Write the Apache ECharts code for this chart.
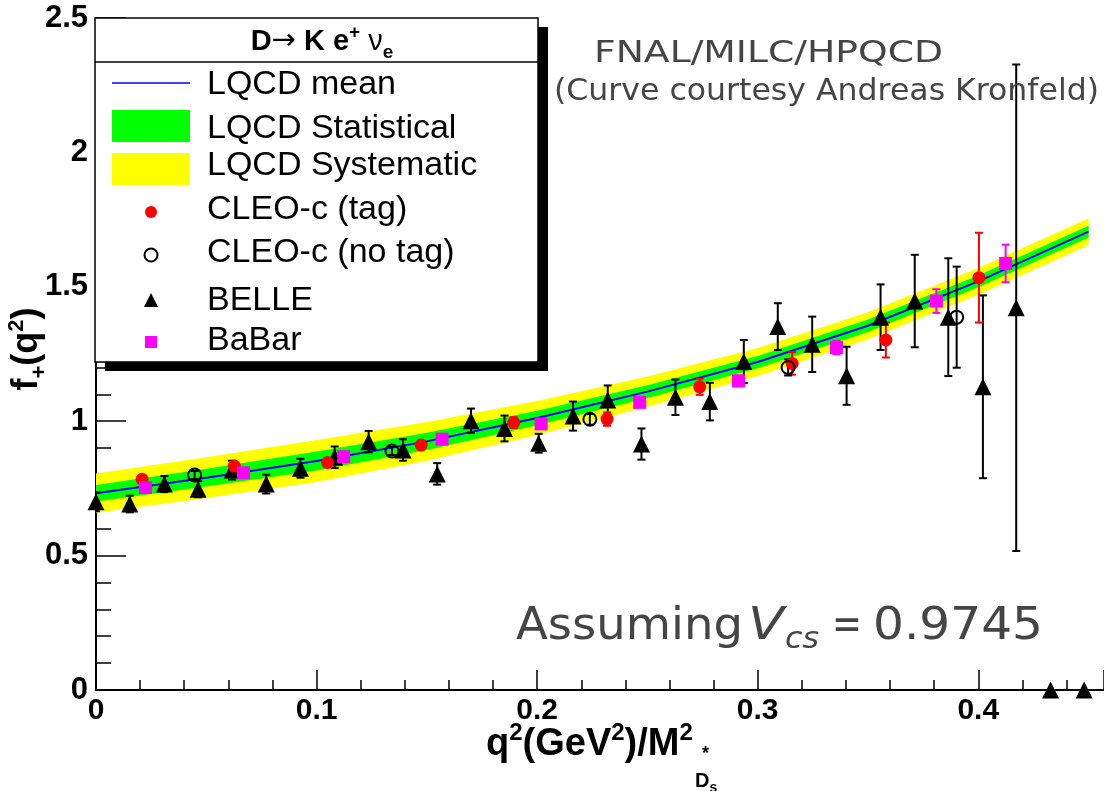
<!DOCTYPE html>
<html><head><meta charset="utf-8">
<script src="https://cdn.jsdelivr.net/npm/echarts@6/dist/echarts.min.js"></script>
<style>html,body{margin:0;padding:0;background:#fff}#c{width:1104px;height:791px}</style>
</head><body><div id="c"></div>
<script>
// ---------------- DATA ----------------
const bandQ      = [0, 0.05, 0.1, 0.15, 0.2, 0.25, 0.3, 0.35, 0.4, 0.45];
const lqcdMean   = [0.732, 0.790, 0.852, 0.925, 1.012, 1.110, 1.220, 1.355, 1.520, 1.705];
const lqcdStat   = [0.031, 0.033, 0.035, 0.032, 0.027, 0.024, 0.023, 0.023, 0.022, 0.022];
const lqcdSyst   = [0.073, 0.076, 0.078, 0.072, 0.063, 0.056, 0.052, 0.050, 0.050, 0.050];

const belleQ   = [0.000,0.0153,0.031,0.0463,0.0617,0.0772,0.0927,0.1082,0.1236,0.1392,0.1547,0.170,0.1852,0.2007,0.2163,0.232,0.2473,0.2627,0.2783,0.2937,0.3091,0.3247,0.3403,0.3557,0.3712,0.3864,0.4021,0.4172,0.4328,0.448];
const belleF   = [0.700,0.692,0.766,0.747,0.818,0.766,0.825,0.866,0.924,0.893,0.804,1.002,0.973,0.918,1.019,1.079,0.915,1.089,1.073,1.222,1.352,1.286,1.169,1.387,1.447,1.387,1.128,1.422,0,0];
const belleErr = [0.035,0.031,0.030,0.030,0.035,0.035,0.035,0.040,0.040,0.040,0.040,0.045,0.048,0.035,0.054,0.054,0.058,0.066,0.070,0.080,0.087,0.103,0.108,0.122,0.172,0.219,0.340,0.905,0,0];

const cleoTagQ   = [0.0209,0.0627,0.105,0.1474,0.1894,0.2317,0.2737,0.3156,0.3581,0.4003];
const cleoTagF   = [0.784,0.833,0.846,0.911,0.995,1.008,1.128,1.215,1.302,1.534];
const cleoTagErr = [0.015,0.015,0.015,0.015,0.020,0.025,0.030,0.042,0.065,0.167];

const cleoNoTagQ   = [0.0447,0.1342,0.2239,0.3138,0.3902];
const cleoNoTagF   = [0.800,0.889,1.007,1.200,1.387];
const cleoNoTagErr = [0.015,0.015,0.020,0.030,0.188];

const babarQ   = [0.0224,0.0669,0.1123,0.1569,0.2018,0.2465,0.2913,0.3357,0.381,0.4124];
const babarF   = [0.753,0.808,0.868,0.933,0.990,1.070,1.150,1.274,1.447,1.587];
const babarErr = [0.010,0.010,0.010,0.012,0.012,0.015,0.020,0.025,0.044,0.070];

const xTicks = [0, 0.1, 0.2, 0.3, 0.4];
const yTicks = [0, 0.5, 1, 1.5, 2, 2.5];

// ---------------- HELPERS ----------------
const LS = 'Liberation Sans', DJ = 'DejaVu Sans';
const mc = document.createElement('canvas').getContext('2d');
function fontStr(p){ return (p.fi?'italic ':'normal ') + (p.fw||'normal') + ' ' + p.fs + 'px "' + (p.ff||LS) + '"'; }
function tw(p){ mc.font = fontStr(p); return mc.measureText(p.t).width; }
function textEl(p, x, base, sx){
  return {type:'text', x:x, y: base - (p.rise||0) - 0.35*p.fs, z:100, scaleX: sx||1,
    style:{text:p.t, fontSize:p.fs, fontWeight:p.fw||'normal', fontStyle:p.fi?'italic':'normal',
           fontFamily:p.ff||LS, fill:p.c||'#000', align:'left', verticalAlign:'middle'}};
}
function runText(pieces, x0, base, align){
  const widths = pieces.map(tw);
  const total = widths.reduce((a,b)=>a+b,0);
  let x = align==='center' ? x0 - total/2 : (align==='right' ? x0 - total : x0);
  return pieces.map((p,i)=>{ const e = textEl(p, x, base); x += widths[i]; return e; });
}
// text stretched horizontally to span [x1, x2]
function fitText(p, x1, x2, base){ return textEl(p, x1, base, (x2-x1)/tw(p)); }
function zip2(a,b){ return a.map((v,i)=>[v,b[i]]); }
function errData(q,f,e){ const out=[]; q.forEach((v,i)=>{ if(e[i]>0) out.push([v, f[i]-e[i], f[i]+e[i]]); }); return out; }
function errSeries(name, data, color){
  return {type:'custom', name:name, data:data, encode:{x:0,y:[1,2]}, z:4, clip:true, silent:true,
    renderItem:function(params, api){
      const x=api.value(0), lo=api.value(1), hi=api.value(2);
      const p1=api.coord([x,lo]), p2=api.coord([x,hi]); const hw=4;
      const st={stroke:color, lineWidth:2};
      return {type:'group', children:[
        {type:'line', shape:{x1:p1[0],y1:p1[1],x2:p2[0],y2:p2[1]}, style:st},
        {type:'line', shape:{x1:p1[0]-hw,y1:p1[1],x2:p1[0]+hw,y2:p1[1]}, style:st},
        {type:'line', shape:{x1:p2[0]-hw,y1:p2[1],x2:p2[0]+hw,y2:p2[1]}, style:st}
      ]};
    }};
}

// band table built from the arrays above: [q, systLo, systHi, statLo, statHi]
const bandRows = bandQ.map((q,i)=>[q, lqcdMean[i]-lqcdSyst[i], lqcdMean[i]+lqcdSyst[i],
                                      lqcdMean[i]-lqcdStat[i], lqcdMean[i]+lqcdStat[i]]);

// ---------------- GRAPHIC (legend + texts) ----------------
const G = [];
G.push({type:'rect', z:90, shape:{x:105,y:27,width:443,height:344}, style:{fill:'#000'}});
G.push({type:'rect', z:91, shape:{x:95,y:18,width:443,height:344}, style:{fill:'#fff', stroke:'#000', lineWidth:1.5}});
G.push({type:'line', z:92, shape:{x1:95,y1:62,x2:538,y2:62}, style:{stroke:'#000', lineWidth:1.5}});
G.push(...runText([
  {t:'D', fs:29, fw:'bold'}, {t:'\u2192', fs:29, ff:DJ}, {t:' K e', fs:29, fw:'bold'},
  {t:'+', fs:19, fw:'bold', rise:13}, {t:' \u03bd', fs:29}, {t:'e', fs:19, fw:'bold', rise:-7}
], 322, 52, 'center'));
G.push({type:'line', z:95, shape:{x1:112,y1:83,x2:190,y2:83}, style:{stroke:'#0000ff', lineWidth:1.5}});
G.push({type:'rect', z:95, shape:{x:112,y:110,width:78,height:32}, style:{fill:'#00ff00'}});
G.push({type:'rect', z:95, shape:{x:112,y:153,width:78,height:32}, style:{fill:'#ffff00'}});
G.push({type:'circle', z:95, shape:{cx:151,cy:212,r:6}, style:{fill:'#ff0000'}});
G.push({type:'circle', z:95, shape:{cx:151,cy:255,r:6.5}, style:{fill:'none', stroke:'#000', lineWidth:2}});
G.push({type:'polygon', z:95, shape:{points:[[144,307],[158,307],[151,293]]}, style:{fill:'#000'}});
G.push({type:'rect', z:95, shape:{x:145,y:336,width:12,height:12}, style:{fill:'#ff00ff'}});
const legLabels = ['LQCD mean','LQCD Statistical','LQCD Systematic','CLEO-c (tag)','CLEO-c (no tag)','BELLE','BaBar'];
const legBase = [97, 140.5, 178, 221.5, 265, 313, 353];
legLabels.forEach((t,i)=>G.push(...runText([{t:t, fs:34}], 207, legBase[i], 'left')));

// annotations (horizontal extents)
const gray = '#454545';
G.push(fitText({t:'FNAL/MILC/HPQCD', fs:31, ff:DJ, c:gray}, 594, 943, 65));
G.push(fitText({t:'(Curve courtesy Andreas Kronfeld)', fs:30, ff:DJ, c:gray}, 554, 1099, 103));
G.push(fitText({t:'Assuming', fs:44, ff:DJ, c:gray}, 516, 743, 643));
G.push(fitText({t:'V', fs:44, ff:DJ, fi:true, c:gray}, 748, 784, 643));
G.push(fitText({t:'cs', fs:31, ff:DJ, fi:true, c:gray}, 785, 819, 651));
G.push(fitText({t:'=', fs:44, ff:DJ, c:gray}, 832, 862, 643));
G.push(fitText({t:'0.9745', fs:44, ff:DJ, c:gray}, 873, 1043, 643));

// axis titles
G.push(...runText([
  {t:'q', fs:38, fw:'bold'}, {t:'2', fs:24, fw:'bold', rise:16}, {t:'(GeV', fs:38, fw:'bold'},
  {t:'2', fs:24, fw:'bold', rise:16}, {t:')/M', fs:38, fw:'bold'}, {t:'2', fs:24, fw:'bold', rise:16}
], 486, 758, 'left'));
G.push(...runText([{t:'D', fs:20, fw:'bold'}, {t:'s', fs:14, fw:'bold', rise:-5}], 695, 788, 'left'));
G.push(...runText([{t:'*', fs:18, fw:'bold'}], 702, 760, 'left'));
G.push({type:'group', x:40, y:349, rotation:Math.PI/2, children: runText([
  {t:'f', fs:36, fw:'bold'}, {t:'+', fs:22, fw:'bold', rise:-8}, {t:'(q', fs:36, fw:'bold'},
  {t:'2', fs:22, fw:'bold', rise:15}, {t:')', fs:36, fw:'bold'}
], 0, 0, 'center')});

// ---------------- CHART ----------------
const chart = echarts.init(document.getElementById('c'), null, {renderer:'canvas'});
const axisCommon = {
  type:'value', splitLine:{show:false},
  axisLine:{show:true, onZero:false, lineStyle:{color:'#000', width:2}},
  axisLabel:{color:'#000', fontFamily:LS, fontWeight:'bold', showMaxLabel:false}
};
const option = {
  animation:false,
  backgroundColor:'#fff',
  grid:{left:96, right:0, top:18, bottom:101, containLabel:false},
  xAxis: Object.assign({}, axisCommon, {
    min:0, max:0.457, interval:0.1,
    axisTick:{show:true, inside:true, length:20, lineStyle:{color:'#000', width:1.5}},
    minorTick:{show:true, splitNumber:5, length:10, lineStyle:{color:'#000', width:1.5}},
    axisLabel:Object.assign({}, axisCommon.axisLabel, {fontSize:30, margin:6,
      formatter:v => xTicks.indexOf(+v.toFixed(3))>=0 ? String(+v.toFixed(3)) : ''})
  }),
  yAxis: Object.assign({}, axisCommon, {
    min:0, max:2.5, interval:0.5,
    axisTick:{show:true, inside:true, length:30, lineStyle:{color:'#000', width:1.5}},
    minorTick:{show:true, splitNumber:5, length:15, lineStyle:{color:'#000', width:1.5}},
    axisLabel:Object.assign({}, axisCommon.axisLabel, {fontSize:31, margin:8, showMaxLabel:true,
      formatter:v => yTicks.indexOf(+v)>=0 ? String(v) : ''})
  }),
  graphic: G,
  series: [
    {type:'custom', name:'LQCD bands', data:bandRows, encode:{x:0, y:[1,2,3,4]}, z:1, clip:true, silent:true,
     renderItem:function(params, api){
       if (params.dataIndex !== 0) return null;
       const edge = k => bandRows.map(r => api.coord([r[0], r[k]]));
       const poly = (lo, hi, color) => ({type:'polygon', shape:{points: edge(hi).concat(edge(lo).reverse())}, style:{fill:color}});
       return {type:'group', children:[poly(1,2,'#ffff00'), poly(3,4,'#00ff00')]};
     }},
    {type:'line', name:'LQCD mean', data:zip2(bandQ, lqcdMean), smooth:false,
     showSymbol:false, lineStyle:{color:'#0000ff', width:2}, z:3, silent:true},
    errSeries('belleErr', errData(belleQ, belleF, belleErr), '#000'),
    errSeries('tagErr', errData(cleoTagQ, cleoTagF, cleoTagErr), '#ff0000'),
    errSeries('notagErr', errData(cleoNoTagQ, cleoNoTagF, cleoNoTagErr), '#000'),
    errSeries('babarErr', errData(babarQ, babarF, babarErr), '#ff00ff'),
    {type:'scatter', name:'BELLE', data:zip2(belleQ, belleF), symbol:'triangle', symbolSize:17,
     itemStyle:{color:'#000', opacity:1}, z:5, silent:true},
    {type:'scatter', name:'CLEO-c (tag)', data:zip2(cleoTagQ, cleoTagF), symbol:'circle', symbolSize:13,
     itemStyle:{color:'#ff0000', opacity:1}, z:5, silent:true},
    {type:'scatter', name:'CLEO-c (no tag)', data:zip2(cleoNoTagQ, cleoNoTagF), symbol:'circle', symbolSize:13,
     itemStyle:{color:'rgba(0,0,0,0)', borderColor:'#000', borderWidth:2, opacity:1}, z:5, silent:true},
    {type:'scatter', name:'BaBar', data:zip2(babarQ, babarF), symbol:'rect', symbolSize:13,
     itemStyle:{color:'#ff00ff', opacity:1}, z:5, silent:true}
  ]
};
chart.setOption(option);
</script></body></html>
